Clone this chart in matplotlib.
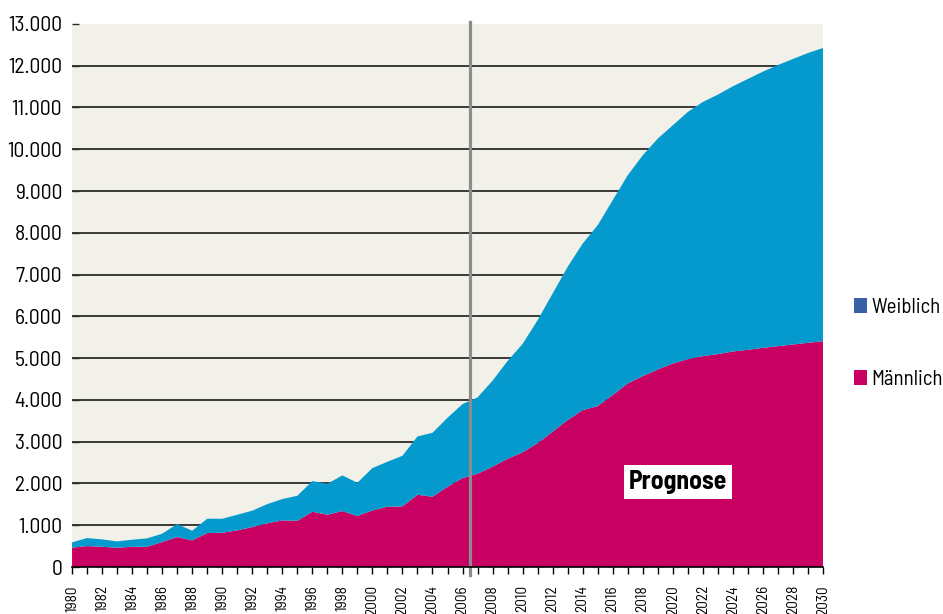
import numpy as np
import matplotlib.pyplot as plt
from matplotlib.patches import Patch
from matplotlib.ticker import FuncFormatter, MultipleLocator

plt.rcParams['font.family'] = ['Barlow Semi Condensed', 'Barlow Condensed',
                               'Liberation Sans Narrow', 'DejaVu Sans']
plt.rcParams['font.size'] = 15

years = list(range(1980, 2031))

maennlich = [
    462, 502, 485, 462, 485, 485, 598, 718, 638, 813,
    820, 877, 957, 1045, 1117, 1108, 1323, 1252, 1340, 1220,
    1356, 1443, 1451, 1730, 1683, 1921, 2129, 2233, 2400, 2592,
    2744, 2966, 3240, 3517, 3756, 3852, 4115, 4394, 4569, 4729,
    4872, 4976, 5048, 5096, 5160, 5199, 5247, 5287, 5327, 5367,
    5407,
]
weiblich = [
    128, 192, 177, 152, 169, 201, 199, 311, 231, 343,
    336, 375, 391, 462, 510, 598, 734, 741, 853, 797,
    1012, 1077, 1212, 1396, 1530, 1651, 1771, 1827, 2060, 2338,
    2596, 2943, 3307, 3668, 3987, 4330, 4665, 4984, 5287, 5526,
    5702, 5917, 6084, 6212, 6347, 6484, 6611, 6730, 6834, 6937,
    7017,
]

prognose_start = 2006.5

c_m = '#C70062'
c_w = '#059ACD'
c_w_legend = '#3761A8'

fig = plt.figure(figsize=(9.43, 6.14), dpi=100)
ax = fig.add_axes([0.0764, 0.0765, 0.7963, 0.8845])
ax.set_facecolor('#F1F0E9')

ax.stackplot(years, maennlich, weiblich, colors=[c_m, c_w], linewidth=0, zorder=2)

ax.set_xlim(1980, 2030)
ax.set_ylim(0, 13000)

# horizontal rules under the areas
for v in range(1000, 13000, 1000):
    ax.axhline(v, color='#2b2b2b', lw=1.3, zorder=1)

# start of the forecast
ax.plot([prognose_start, prognose_start], [-200, 13050], color='#8C8C8C', lw=2.3,
        zorder=3, clip_on=False)

ax.text(2020.35, 2040, 'Prognose', fontsize=18.5, fontweight='bold', ha='center', va='center',
        zorder=4, bbox=dict(facecolor='white', edgecolor='none', pad=3.5))

for s in ['top', 'right', 'left']:
    ax.spines[s].set_visible(False)
ax.spines['bottom'].set_color('black')
ax.spines['bottom'].set_linewidth(1.2)
ax.spines['bottom'].set_zorder(5)

ax.yaxis.set_major_locator(MultipleLocator(1000))
ax.yaxis.set_major_formatter(FuncFormatter(lambda v, p: f'{int(v):,}'.replace(',', '.')))
ax.tick_params(axis='y', direction='in', length=5, width=1, color='#2b2b2b', pad=7,
               labelsize=15.5)

ax.set_xticks(years)
ax.set_xticklabels([str(y) if y % 2 == 0 else '' for y in years], rotation=90)
ax.tick_params(axis='x', direction='out', length=5, width=1, color='black', pad=8,
               labelsize=11)
for lbl in ax.get_xticklabels():
    lbl.set_va('top')

handles = [Patch(facecolor=c_w_legend, edgecolor='none', label='Weiblich'),
           Patch(facecolor=c_m, edgecolor='none', label='Männlich')]
fig.legend(handles=handles, loc='upper left', bbox_to_anchor=(0.906, 0.515), frameon=False,
           borderpad=0, borderaxespad=0, handlelength=0.6, handleheight=0.7,
           handletextpad=0.2, labelspacing=2.55, fontsize=15)

fig.savefig('out.png', dpi=100)
